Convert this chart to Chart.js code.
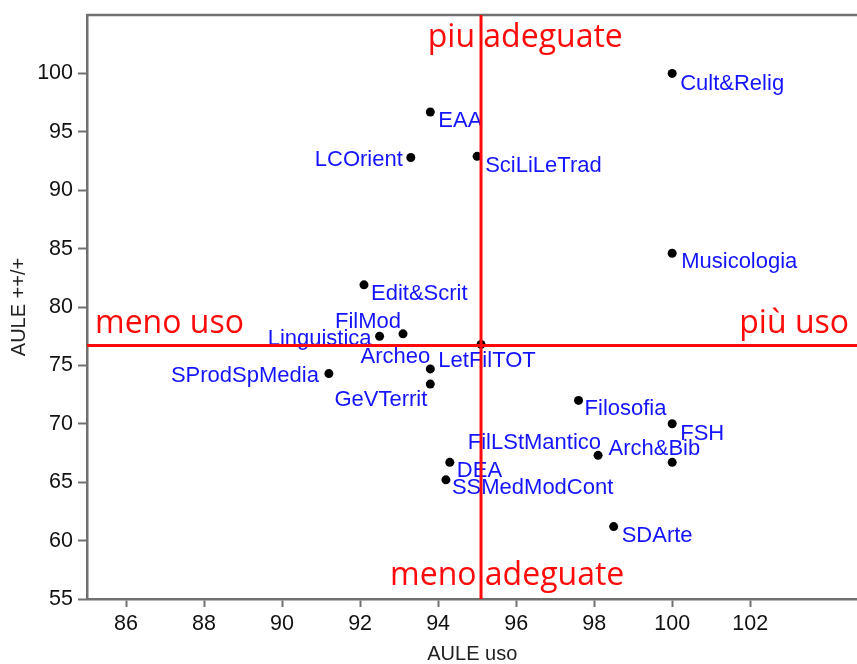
<!DOCTYPE html>
<html>
<head>
<meta charset="utf-8">
<script src="https://cdn.jsdelivr.net/npm/chart.js@4/dist/chart.umd.min.js"></script>
<style>
  html,body{margin:0;padding:0;background:#fff;overflow:hidden;}
  #wrap{width:857px;height:664px;overflow:hidden;}
</style>
</head>
<body>
<div id="wrap"><canvas id="c" width="862" height="664"></canvas></div>
<script>
// departments, x = AULE uso, y = AULE ++/+
const names = ["Cult&Relig","Musicologia","EAA","LCOrient","SciLiLeTrad","Edit&Scrit","FilMod","Linguistica",
  "LetFilTOT","Archeo","GeVTerrit","SProdSpMedia","Filosofia","FSH","FilLStMantico","Arch&Bib","DEA",
  "SSMedModCont","SDArte"];
const usoVals  = [100, 100, 93.8, 93.3, 95.0, 92.1, 93.1, 92.5, 95.1, 93.8, 93.8, 91.2, 97.6, 100, 98.1, 100, 94.3, 94.2, 98.5];
const adeqVals = [100, 84.6, 96.7, 92.8, 92.9, 81.9, 77.7, 77.5, 76.8, 74.7, 73.4, 74.3, 72.0, 70.0, 67.3, 66.7, 66.7, 65.2, 61.2];
const refUso = 95.1;   // vertical red line
const refAdeq = 76.7;  // horizontal red line
const xTicks = [86, 88, 90, 92, 94, 96, 98, 100, 102];
const yTicks = [55, 60, 65, 70, 75, 80, 85, 90, 95, 100];
const xMin = 85, xMax = 104.75, yMin = 55, yMax = 105;

// label placement next to each point: [dx, dy, align] in px
const labelOffsets = [[8,17,"left"],[9,15,"left"],[8,15,"left"],[-8,9,"right"],[8,16,"left"],[7,15,"left"],
  [-2,-6,"right"],[-8,9,"right"],[6,23,"center"],[0,-6,"right"],[-3,22,"right"],[-10,8,"right"],
  [6,15,"left"],[8,16,"left"],[3,-6,"right"],[28,-7,"right"],[7,15,"left"],[6,14,"left"],[8,15,"left"]];

const AXIS = "#707070", RED = "#ff0a0a", BLUE = "#1414ff";
const SANS = '"Liberation Sans", Arial, sans-serif';

const decor = {
  id: "decor",
  beforeDatasetsDraw(chart){
    const {ctx, chartArea:a, scales:{x, y}} = chart;
    ctx.save();
    // top frame line
    ctx.strokeStyle = AXIS; ctx.lineWidth = 2.5;
    ctx.beginPath(); ctx.moveTo(a.left, a.top); ctx.lineTo(a.right, a.top); ctx.stroke();
    // point names
    ctx.font = "22px " + SANS; ctx.fillStyle = BLUE; ctx.textBaseline = "alphabetic";
    names.forEach((n, i) => {
      const [dx, dy, al] = labelOffsets[i];
      ctx.textAlign = al;
      ctx.fillText(n, x.getPixelForValue(usoVals[i]) + dx, y.getPixelForValue(adeqVals[i]) + dy);
    });
    ctx.restore();
  },
  afterDatasetsDraw(chart){
    const {ctx, chartArea:a, scales:{x, y}} = chart;
    const lx = x.getPixelForValue(refUso), ly = y.getPixelForValue(refAdeq);
    ctx.save();
    ctx.font = '32px "Open Sans", sans-serif'; ctx.fillStyle = RED; ctx.textBaseline = "alphabetic";
    ctx.textAlign = "left";
    ctx.fillText("piu adeguate", lx - ctx.measureText("piu").width - 6, a.top + 32);
    ctx.fillText("meno adeguate", lx - ctx.measureText("meno").width - 4.5, a.bottom - 14);
    ctx.fillText("meno uso", a.left + 8, ly - 13);
    ctx.textAlign = "right";
    ctx.fillText("più uso", 849, ly - 13);
    ctx.restore();
  }
};

new Chart(document.getElementById("c"), {
  type: "scatter",
  data: {
    datasets: [
      {type:"line", data:[{x:refUso,y:yMin},{x:refUso,y:yMax}], borderColor:RED, borderWidth:3, pointRadius:0},
      {type:"line", data:[{x:xMin,y:refAdeq},{x:xMax,y:refAdeq}], borderColor:RED, borderWidth:3, pointRadius:0},
      {data: usoVals.map((v, i) => ({x:v, y:adeqVals[i]})),
        pointRadius:4.5, pointBackgroundColor:"#000", pointBorderWidth:0, pointHoverRadius:4.5}
    ]
  },
  options: {
    responsive:false, animation:false, devicePixelRatio:1,
    layout:{padding:{top:15, left:0, right:0, bottom:0}},
    plugins:{legend:{display:false}, tooltip:{enabled:false}},
    scales:{
      x:{type:"linear", min:xMin, max:xMax,
        afterBuildTicks: s => { s.ticks = xTicks.map(v => ({value:v})); },
        afterFit: s => { s.height = 65; s.paddingLeft = 0; s.paddingRight = 0; },
        border:{color:AXIS, width:2.5},
        grid:{drawOnChartArea:false, drawTicks:true, tickLength:8, tickColor:AXIS, tickWidth:2},
        ticks:{color:"#111", font:{family:SANS, size:21.5}, padding:4, maxRotation:0},
        title:{display:true, text:"AULE uso", color:"#222", font:{family:SANS, size:20, lineHeight:1}, padding:0}
      },
      y:{type:"linear", min:yMin, max:yMax,
        afterBuildTicks: s => { s.ticks = yTicks.map(v => ({value:v})); },
        afterFit: s => { s.width = 87; s.paddingTop = 0; s.paddingBottom = 0; },
        border:{color:AXIS, width:2.5},
        grid:{drawOnChartArea:false, drawTicks:true, tickLength:9, tickColor:AXIS, tickWidth:2},
        ticks:{color:"#111", font:{family:SANS, size:21.5}, padding:5},
        title:{display:true, text:"AULE ++/+", color:"#222", font:{family:SANS, size:20, lineHeight:1}, padding:{top:9, bottom:0}}
      }
    }
  },
  plugins:[decor]
});
</script>
</body>
</html>
